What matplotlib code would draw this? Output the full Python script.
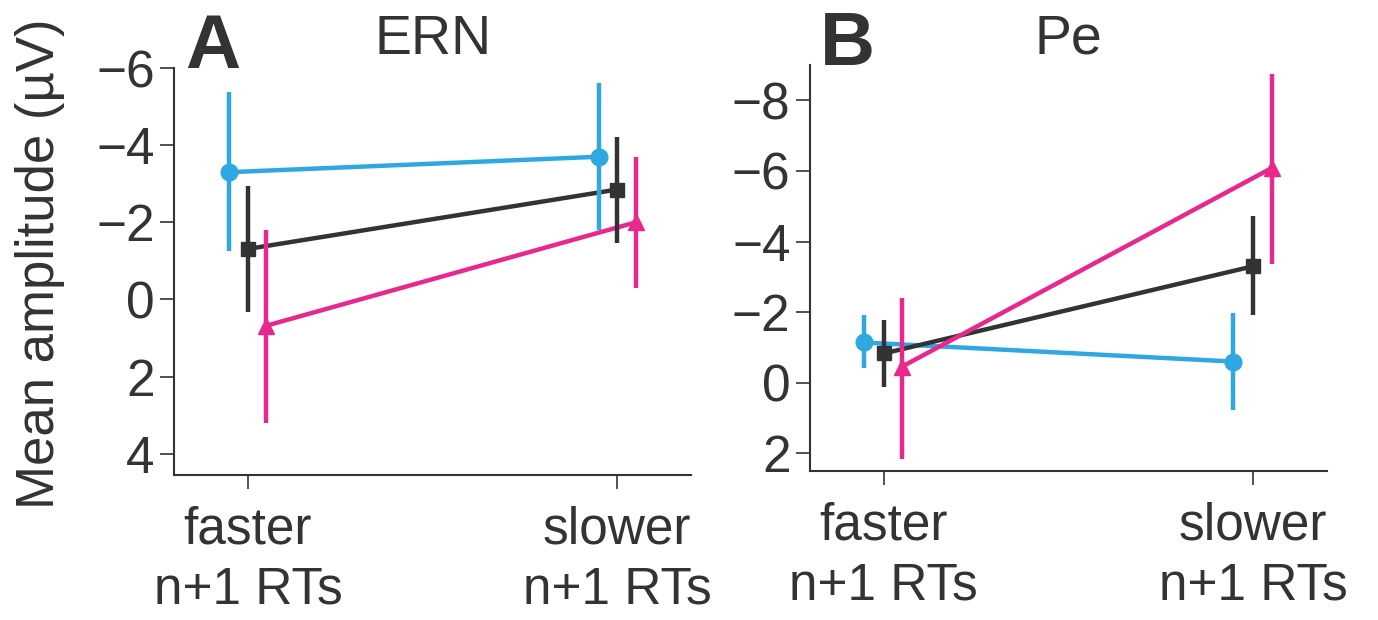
import numpy as np
import matplotlib
matplotlib.use("Agg")
import matplotlib.pyplot as plt

plt.rcParams['font.family'] = ['Liberation Sans', 'DejaVu Sans']

# data (negative up, so axes are inverted)
conditions = ["faster\nn+1 RTs", "slower\nn+1 RTs"]

ern_blue = [-3.3, -3.7]
ern_blue_lo = [-5.38, -5.6]
ern_blue_hi = [-1.25, -1.8]
ern_black = [-1.31, -2.85]
ern_black_lo = [-2.94, -4.21]
ern_black_hi = [0.32, -1.47]
ern_pink = [0.68, -2.0]
ern_pink_lo = [-1.8, -3.69]
ern_pink_hi = [3.2, -0.3]

pe_blue = [-1.14, -0.6]
pe_blue_lo = [-1.91, -1.97]
pe_blue_hi = [-0.41, 0.78]
pe_black = [-0.83, -3.3]
pe_black_lo = [-1.77, -4.71]
pe_black_hi = [0.13, -1.91]
pe_pink = [-0.46, -6.08]
pe_pink_lo = [-2.4, -8.74]
pe_pink_hi = [2.17, -3.35]

BLUE = "#2ea8e0"
BLACK = "#333333"
PINK = "#e8288c"
GREY = "#333333"


def draw_panel(ax, series, ylim, yticks):
    x = np.arange(2)
    # connecting lines first, bars and markers on top
    for mean, lo, hi, col, mk, ms, off in series:
        ax.plot(x + off, mean, color=col, lw=3.2, zorder=2, solid_capstyle='butt')
    for mean, lo, hi, col, mk, ms, off in series:
        m = np.array(mean)
        yerr = [m - np.array(lo), np.array(hi) - m]
        ax.errorbar(x + off, m, yerr=yerr, fmt=mk, color=col, ms=ms,
                    elinewidth=3.2, capsize=0, zorder=3, lw=0)
    ax.set_xlim(-0.2, 1.2)
    ax.set_ylim(*ylim)
    ax.set_yticks(yticks)
    ax.set_xticks(x)
    ax.set_xticklabels(conditions, linespacing=1.3)
    for s in ['top', 'right']:
        ax.spines[s].set_visible(False)
    for s in ['left', 'bottom']:
        ax.spines[s].set_linewidth(1.5)
        ax.spines[s].set_color(GREY)
    ax.tick_params(axis='both', direction='out', length=10, width=1.2,
                   color=GREY, labelcolor=GREY, labelsize=37, pad=4)
    ax.tick_params(axis='x', pad=12)


fig = plt.figure(figsize=(13.78, 6.2), dpi=100)
axA = fig.add_axes([0.1263, 0.2339, 0.3752, 0.6564])
axB = fig.add_axes([0.5878, 0.2403, 0.3752, 0.6549])

draw_panel(axA, [
    (ern_blue, ern_blue_lo, ern_blue_hi, BLUE, 'o', 12, -0.05),
    (ern_black, ern_black_lo, ern_black_hi, BLACK, 's', 10, 0.0),
    (ern_pink, ern_pink_lo, ern_pink_hi, PINK, '^', 12, 0.05),
], (4.55, -6), [-6, -4, -2, 0, 2, 4])

draw_panel(axB, [
    (pe_blue, pe_blue_lo, pe_blue_hi, BLUE, 'o', 12, -0.054),
    (pe_black, pe_black_lo, pe_black_hi, BLACK, 's', 10, 0.0),
    (pe_pink, pe_pink_lo, pe_pink_hi, PINK, '^', 12, 0.05),
], (2.5, -9), [-8, -6, -4, -2, 0, 2])

fig.text(0.029, 0.575, "Mean amplitude (µV)", rotation=90, ha='center',
         va='center', fontsize=38, color=GREY)
fig.text(0.134, 0.89, "A", fontsize=55, fontweight='bold', color=GREY,
         va='baseline')
fig.text(0.595, 0.895, "B", fontsize=55, fontweight='bold', color=GREY,
         va='baseline')
fig.text(0.314, 0.913, "ERN", fontsize=40, color=GREY, ha='center',
         va='baseline')
fig.text(0.775, 0.913, "Pe", fontsize=40, color=GREY, ha='center',
         va='baseline')

fig.savefig("out.png", dpi=100)
